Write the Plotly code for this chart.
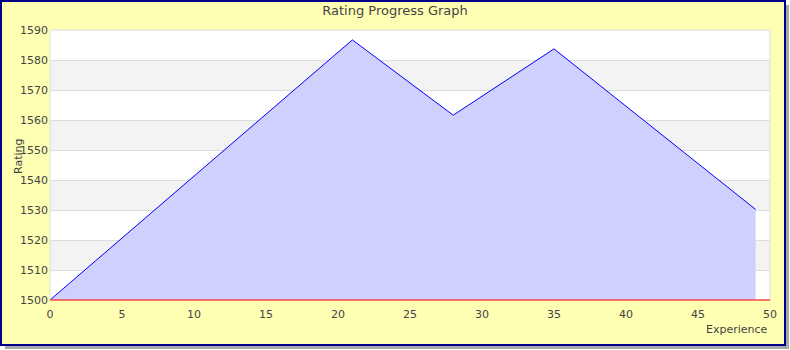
import plotly.graph_objects as go

experience = [0, 21, 28, 35, 49]
rating = [1500, 1586.7, 1561.6, 1583.7, 1530.2]
x_ticks = [0, 5, 10, 15, 20, 25, 30, 35, 40, 45, 50]
y_ticks = [1500, 1510, 1520, 1530, 1540, 1550, 1560, 1570, 1580, 1590]

W, H = 790, 350
L, R, T, B = 50, 20, 30, 50
pw, ph = W - L - R, H - T - B

def px(x):
    return (x - L) / pw

def py(y):
    return (H - B - y) / ph

fig = go.Figure()
fig.add_trace(go.Scatter(
    x=experience, y=rating, mode="lines", fill="tozeroy",
    fillcolor="rgba(208,208,255,1)", line=dict(color="#0000ff", width=1),
    hoverinfo="skip", showlegend=False))

shapes = []
# shadow
shapes.append(dict(type="rect", xref="paper", yref="paper", x0=px(5), x1=px(789), y0=py(5), y1=py(349),
                   fillcolor="#a8a8a8", line=dict(width=0), layer="below"))
# frame
shapes.append(dict(type="rect", xref="paper", yref="paper", x0=px(1), x1=px(785), y0=py(1), y1=py(345),
                   fillcolor="#ffffb4", line=dict(color="#00008b", width=2), layer="below"))
# plot background
shapes.append(dict(type="rect", xref="paper", yref="paper", x0=0, x1=1, y0=0, y1=1,
                   fillcolor="#ffffff", line=dict(width=0), layer="below"))
for i in range(len(y_ticks) - 1):
    if i % 2 == 1:
        shapes.append(dict(type="rect", xref="paper", yref="y", x0=0, x1=1, y0=y_ticks[i], y1=y_ticks[i + 1],
                           fillcolor="#f3f3f3", line=dict(width=0), layer="below"))
# plot border
shapes.append(dict(type="rect", xref="paper", yref="paper", x0=0, x1=1, y0=0, y1=1,
                   fillcolor="rgba(0,0,0,0)", line=dict(color="#dddddd", width=1), layer="above"))
shapes.append(dict(type="line", xref="paper", yref="paper", x0=0, x1=1, y0=0, y1=0,
                   line=dict(color="#ff0000", width=1), layer="above"))

font = "DejaVu Sans"
fig.update_layout(
    width=W, height=H,
    margin=dict(l=L, r=R, t=T, b=B),
    paper_bgcolor="#ffffff", plot_bgcolor="rgba(0,0,0,0)",
    shapes=shapes,
    title=dict(text="Rating Progress Graph", x=0.5, xanchor="center", y=1 - 10.5 / H, yanchor="middle",
               font=dict(family=font, size=13, color="#444444")),
    xaxis=dict(range=[0, 50], tickvals=x_ticks, showgrid=False, zeroline=False, showline=False,
               ticks="", ticklabelstandoff=6, tickfont=dict(family=font, size=11, color="#444444"),
               fixedrange=True),
    yaxis=dict(range=[1500, 1590], tickvals=y_ticks, showgrid=True, gridcolor="#dddddd", gridwidth=1,
               zeroline=False, showline=False, ticks="", ticklabelstandoff=1,
               tickfont=dict(family=font, size=11, color="#444444"), fixedrange=True),
    annotations=[
        dict(text="Experience", xref="paper", yref="paper", x=px(770), y=py(329), xanchor="right",
             yanchor="middle", showarrow=False, font=dict(family=font, size=11, color="#444444")),
        dict(text="Rating", xref="paper", yref="paper", x=px(18), y=py(157), xanchor="center",
             yanchor="middle", textangle=-90, showarrow=False, font=dict(family=font, size=11, color="#444444")),
    ],
)

fig.write_html("out.html")
